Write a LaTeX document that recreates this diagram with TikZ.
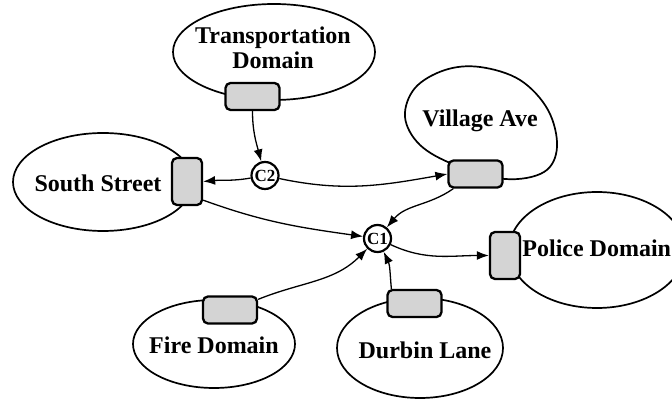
\documentclass[tikz,border=0pt]{standalone}
\usepackage{fontspec}
\setmainfont{Liberation Serif}
\usetikzlibrary{arrows.meta}
\tikzset{
  area/.style={draw, line width=0.85pt},
  alabel/.style={font=\fontsize{12}{12.5}\selectfont\bfseries, align=center, inner sep=0pt},
  port/.style={draw, line width=1.15pt, fill=black!17, rounded corners=2.5pt,
    minimum width=27pt, minimum height=13.5pt, inner sep=0pt},
  vport/.style={port, minimum width=15pt, minimum height=23.5pt},
  conn/.style={draw, circle, line width=1.1pt, fill=white, inner sep=0pt,
    minimum size=13.5pt, font=\fontsize{8.5}{9}\selectfont\bfseries},
  link/.style={line width=0.65pt, -{Latex[length=6pt,width=4.5pt]}}
}
\begin{document}
\begin{tikzpicture}[x=0.5pt,y=0.5pt]
\useasboundingbox (0,0) rectangle (672,400);

\draw[area] (274,348) ellipse [x radius=101, y radius=48];
\draw[area] (103,218) ellipse [x radius=90, y radius=49];
\draw[area] plot[smooth cycle, tension=0.6] coordinates
  {(455,235) (420,255) (405,283) (415,312) (445,330) (480,333) (520,320) (548,290) (557,253) (544,228) (505,221)};
\draw[area] (597,150) ellipse [x radius=88, y radius=58];
\draw[area] (214,56) ellipse [x radius=81, y radius=44];
\draw[area] (420,52) ellipse [x radius=83, y radius=50];

\node[alabel] (tlabel) at (273,352) {Transportation\\Domain};
\node[alabel] (slabel) at (98,217) {South Street};
\node[alabel] (vlabel) at (480,279) {Village Ave};
\node[alabel, anchor=west] (plabel) at (522,152) {Police Domain};
\node[alabel] (flabel) at (214,55) {Fire Domain};
\node[alabel] (dlabel) at (425,50) {Durbin Lane};

\node[port] (tport) at (252.5,303.5) {};
\node[vport] (sport) at (187,218.5) {};
\node[port] (vport) at (475.5,226) {};
\node[vport] (pport) at (505,144.5) {};
\node[port] (fport) at (230,90) {};
\node[port] (dport) at (414.5,96.5) {};

\node[conn] (c2) at (265,224.5) {C2};
\node[conn] (c1) at (377.5,161.5) {C1};

\draw[link] (tport.south) to[out=-90, in=105] (c2);
\draw[link] (c2) to[out=190, in=5] (sport.east);
\draw[link] (c2) to[out=-12, in=190] (vport.west);
\draw[link] ([xshift=3pt]vport.south west) to[out=215, in=50] (c1);
\draw[link] ([yshift=3pt]sport.south east) to[out=-20, in=172] (c1);
\draw[link] ([yshift=-2pt]fport.north east) to[out=22, in=225] (c1);
\draw[link] ([xshift=2.5pt]dport.north west) to[out=95, in=-65] (c1);
\draw[link] (c1) to[out=-25, in=180] (pport.west);
\end{tikzpicture}
\end{document}
